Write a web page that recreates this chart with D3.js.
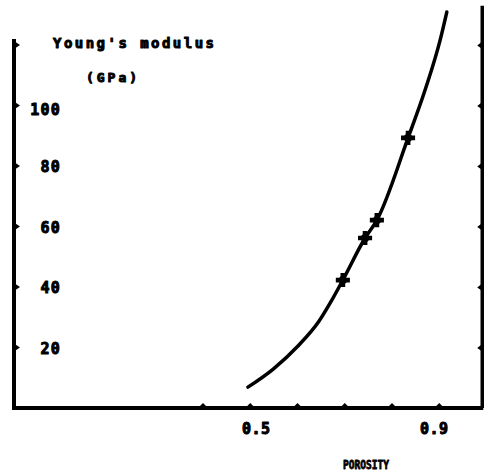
<!DOCTYPE html>
<html>
<head>
<meta charset="utf-8">
<script src="https://cdn.jsdelivr.net/npm/d3@7"></script>
<style>
  html, body { margin: 0; padding: 0; background: #fff; }
  svg { display: block; }
  text { font-family: "DejaVu Sans Mono", monospace; font-weight: bold; fill: #000; stroke: #000; stroke-linejoin: round; }
</style>
</head>
<body>
<svg id="chart" width="486" height="476"></svg>
<script>
// ---- data ----
const curvePorosity = [0.495, 0.548, 0.601, 0.645, 0.672, 0.696, 0.743, 0.768, 0.834, 0.870, 0.902, 0.916];
const curveModulus  = [6.9, 12.8, 20.5, 28.6, 35.5, 42.3, 56.2, 62.1, 89.3, 105.1, 121.7, 130.9];
const pointPorosity = [0.696, 0.743, 0.768, 0.834];
const pointModulus  = [42.3, 56.2, 62.1, 89.3];
const yTickValues = [20, 40, 60, 80, 100, 120];
const yTickLabels = ["20", "40", "60", "80", "100", ""];
const xTickValues = [0.4, 0.5, 0.6, 0.7, 0.8, 0.9];
const xTickLabels = ["", "0.5", "", "", "", "0.9"];
const yTitle1 = "Young's modulus";
const yTitle2 = "(GPa)";
const xTitle = "POROSITY";

// ---- scales ----
const x = d3.scaleLinear().domain([0, 1]).range([14, 486.5]);
const y = d3.scaleLinear().domain([0, 120]).range([408, 45]);

const svg = d3.select("#chart");

// axes frame
const xMax = 0.991;
svg.append("line").attr("x1", x(0)).attr("x2", x(0)).attr("y1", y(122)).attr("y2", y(0) + 2)
  .attr("stroke", "#000").attr("stroke-width", 4);
svg.append("line").attr("x1", x(0) - 1).attr("x2", x(xMax) + 1).attr("y1", y(0)).attr("y2", y(0))
  .attr("stroke", "#000").attr("stroke-width", 4);
svg.append("line").attr("x1", x(xMax)).attr("x2", x(xMax)).attr("y1", y(133)).attr("y2", y(0))
  .attr("stroke", "#000").attr("stroke-width", 3.5);

// left ticks (triangles pointing right)
svg.selectAll(".ltick").data(yTickValues).enter().append("path")
  .attr("d", d => `M${x(0)},${y(d) - 4} L${x(0) + 6},${y(d)} L${x(0)},${y(d) + 4} Z`)
  .attr("fill", "#000");
// right ticks (triangles pointing left)
svg.selectAll(".rtick").data(yTickValues).enter().append("path")
  .attr("d", d => `M${x(xMax)},${y(d) - 3.5} L${x(xMax) - 5},${y(d) + 0.5} L${x(xMax)},${y(d) + 4} Z`)
  .attr("fill", "#000");
// bottom ticks (triangles pointing up)
svg.selectAll(".btick").data(xTickValues).enter().append("path")
  .attr("d", d => `M${x(d) - 5},${y(0)} L${x(d)},${y(0) - 5} L${x(d) + 5},${y(0)} Z`)
  .attr("fill", "#000");

// y tick labels
svg.selectAll(".ylab").data(yTickValues).enter().append("text")
  .attr("x", 61).attr("y", d => y(d) + 6 + (d === 100 ? 3 : 0))
  .attr("text-anchor", "end")
  .attr("font-size", 15).attr("letter-spacing", 1.2).attr("stroke-width", 1)
  .text((d, i) => yTickLabels[i]);

// x tick labels
svg.selectAll(".xlab").data(xTickValues).enter().append("text")
  .attr("x", d => x(d) + (d === 0.5 ? 6 : -5)).attr("y", 434)
  .attr("text-anchor", "middle")
  .attr("font-size", 15).attr("letter-spacing", 0.5).attr("stroke-width", 1)
  .text((d, i) => xTickLabels[i]);

// titles
svg.append("text").attr("x", 53).attr("y", 48).attr("font-size", 14).attr("stroke-width", 1)
  .attr("textLength", 161).attr("lengthAdjust", "spacing").text(yTitle1);
svg.append("text").attr("x", 86).attr("y", 82).attr("font-size", 13).attr("stroke-width", 1)
  .attr("textLength", 51).attr("lengthAdjust", "spacing").text(yTitle2);
svg.append("text").attr("x", 343).attr("y", 469).attr("font-size", 12).attr("stroke-width", 0.8)
  .attr("textLength", 46).attr("lengthAdjust", "spacingAndGlyphs").text(xTitle);

// curve
const curveData = curvePorosity.map((p, i) => [p, curveModulus[i]]);
const line = d3.line().x(d => x(d[0])).y(d => y(d[1])).curve(d3.curveMonotoneX);
svg.append("path").datum(curveData).attr("d", line)
  .attr("fill", "none").attr("stroke", "#000").attr("stroke-width", 3.5)
  .attr("stroke-linecap", "round");

// markers
const pts = pointPorosity.map((p, i) => [p, pointModulus[i]]);
svg.selectAll(".mk").data(pts).enter().append("path")
  .attr("transform", d => `translate(${x(d[0])},${y(d[1])})`)
  .attr("d", d3.symbol().type(d3.symbolCross).size(110))
  .attr("fill", "#000");
svg.selectAll(".mk2").data(pts).enter().append("path")
  .attr("transform", d => `translate(${x(d[0])},${y(d[1])}) rotate(45)`)
  .attr("d", d3.symbol().type(d3.symbolSquare).size(70))
  .attr("fill", "#000");
</script>
</body>
</html>
